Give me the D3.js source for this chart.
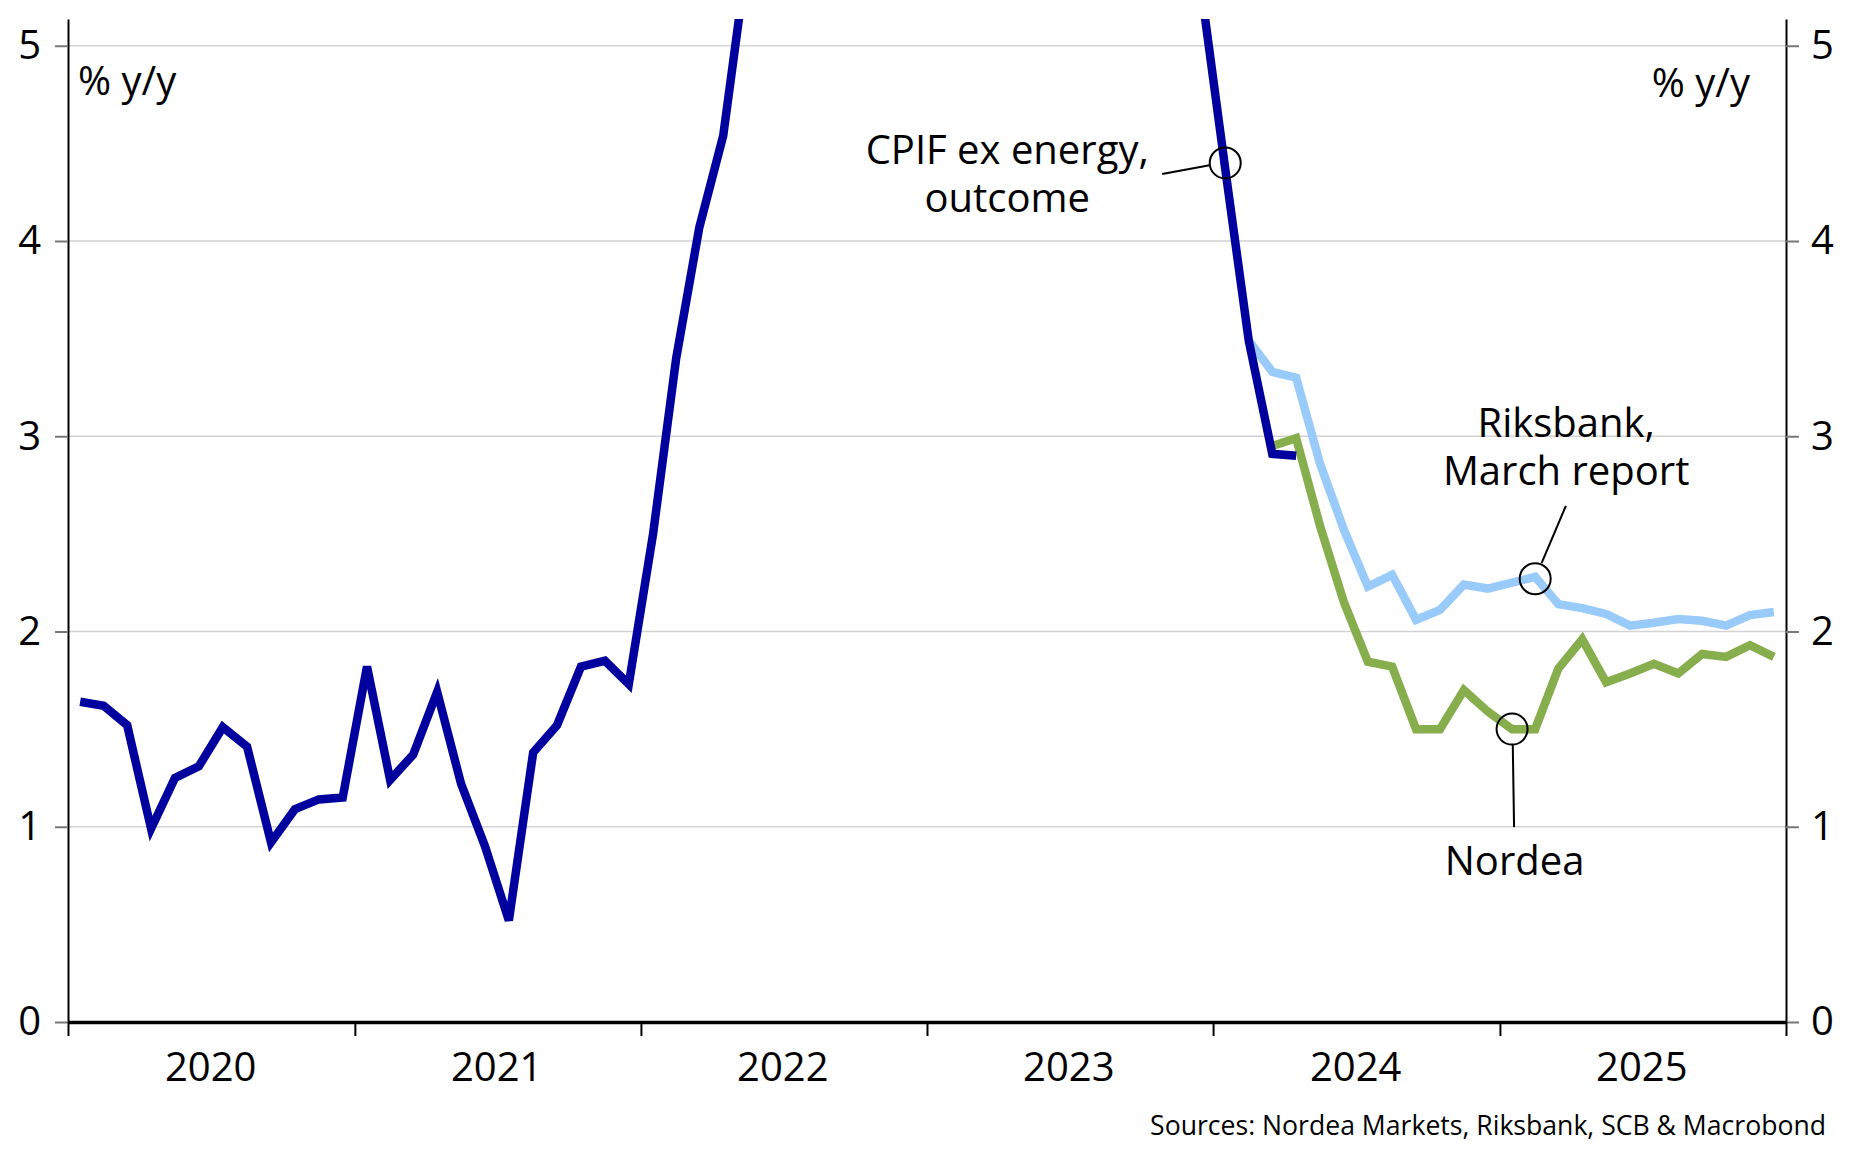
<!DOCTYPE html>
<html>
<head>
<meta charset="utf-8">
<title>CPIF ex energy, outcome and forecasts</title>
<style>
  body { margin: 0; background: #ffffff; }
  svg text { font-family: "Open Sans", sans-serif; fill: #000; }
</style>
</head>
<body>
<script src="https://cdn.jsdelivr.net/npm/d3@7"></script>
<script>
// ---- data (% y/y, monthly) ----
// CPIF ex energy, outcome, from Jan 2020 (2022-23 peak runs above the chart)
var cpifStart = [2020, 0];
var cpifOutcome = [
  1.64, 1.62, 1.52, 0.99, 1.25, 1.31, 1.51, 1.41, 0.92, 1.09, 1.14, 1.15,
  1.82, 1.24, 1.37, 1.69, 1.22, 0.90, 0.52, 1.38, 1.52, 1.82, 1.85, 1.73,
  2.50, 3.40, 4.07, 4.54, 5.45, 6.10, 6.60, 7.50, 7.90, 8.30, 8.80, 9.00,
  8.90, 9.30, 8.90, 8.40, 8.10, 7.90, 7.60, 7.20, 6.90, 6.10, 5.70, 5.30,
  4.37, 3.49, 2.91, 2.90
];

// Riksbank, March report, from Feb 2024
var riksStart = [2024, 1];
var riksMarch = [
  3.49, 3.33, 3.30, 2.86, 2.52, 2.23, 2.29, 2.06, 2.11, 2.24, 2.22,
  2.25, 2.28, 2.14, 2.12, 2.09, 2.03, 2.045, 2.064, 2.055, 2.03, 2.084, 2.10
];

// Nordea forecast, from Mar 2024
var nordeaStart = [2024, 2];
var nordeaForecast = [
  2.95, 2.99, 2.54, 2.15, 1.845, 1.82, 1.50, 1.50, 1.70, 1.59,
  1.50, 1.50, 1.81, 1.96, 1.74, 1.785, 1.835, 1.785, 1.885, 1.87, 1.93, 1.87
];

var yearLabels = [2020, 2021, 2022, 2023, 2024, 2025];
var yTicks = [0, 1, 2, 3, 4, 5];

// ---- layout ----
var W = 1854, H = 1169;
var margin = {top: 19, right: 68, bottom: 147, left: 68};
var width = W - margin.left - margin.right,
    height = H - margin.top - margin.bottom;

var svg = d3.select("body").append("svg")
    .attr("width", W)
    .attr("height", H);

var g = svg.append("g")
    .attr("transform", "translate(" + margin.left + "," + margin.top + ")");

var x = d3.scaleUtc()
    .domain([new Date(Date.UTC(2020, 0, 1)), new Date(Date.UTC(2026, 0, 1))])
    .range([0, width]);
var y = d3.scaleLinear().domain([0, 5.137]).range([height, 0]);

// points sit in the middle of their month
function midMonth(yr, m) {
  var a = Date.UTC(yr, m, 1), b = Date.UTC(yr, m + 1, 1);
  return new Date((a + b) / 2);
}
function toSeries(start, values) {
  return values.map(function (v, i) {
    return {date: midMonth(start[0], start[1] + i), value: v};
  });
}

var cpif = toSeries(cpifStart, cpifOutcome),
    riks = toSeries(riksStart, riksMarch),
    nordea = toSeries(nordeaStart, nordeaForecast);

// gridlines
g.append("g").selectAll("line")
  .data(yTicks.filter(function (d) { return d > 0; }))
  .enter().append("line")
    .attr("x1", 0).attr("x2", width)
    .attr("y1", function (d) { return y(d); })
    .attr("y2", function (d) { return y(d); })
    .attr("stroke", "#d2d2d2")
    .attr("stroke-width", 1.5);

// left axis
var yLeft = g.append("g")
    .call(d3.axisLeft(y).tickValues(yTicks).tickSize(13).tickSizeOuter(0).tickPadding(14).tickFormat(d3.format("d")));
// right axis
var yRight = g.append("g")
    .attr("transform", "translate(" + width + ",0)")
    .call(d3.axisRight(y).tickValues(yTicks).tickSize(13).tickSizeOuter(0).tickPadding(12).tickFormat(d3.format("d")));

[yLeft, yRight].forEach(function (ax) {
  ax.select(".domain").attr("stroke", "#000").attr("stroke-width", 2);
  ax.selectAll(".tick line").attr("stroke", "#777").attr("stroke-width", 2);
  ax.selectAll(".tick text").style("font-size", "40px").attr("fill", "#000");
});

// bottom axis: ticks at year starts, labels mid-year
var xAxis = g.append("g")
    .attr("transform", "translate(0," + height + ")")
    .call(d3.axisBottom(x).ticks(d3.utcYear.every(1)).tickSize(14).tickSizeOuter(0).tickFormat(""));
xAxis.select(".domain").attr("stroke", "#000").attr("stroke-width", 3.5);
xAxis.selectAll(".tick line").attr("stroke", "#000").attr("stroke-width", 2);

g.append("g").selectAll("text")
  .data(yearLabels)
  .enter().append("text")
    .attr("x", function (d) { return x(new Date(Date.UTC(d, 6, 1))); })
    .attr("y", height + 59)
    .attr("text-anchor", "middle")
    .style("font-size", "40px")
    .text(function (d) { return d; });

// lines
g.append("clipPath").attr("id", "plot")
  .append("rect").attr("width", width).attr("height", height);

var line = d3.line()
    .x(function (d) { return x(d.date); })
    .y(function (d) { return y(d.value); });

var lines = g.append("g").attr("clip-path", "url(#plot)");
lines.append("path").datum(riks)
    .attr("fill", "none").attr("stroke", "#99cbfa").attr("stroke-width", 8.5).attr("d", line);
lines.append("path").datum(nordea)
    .attr("fill", "none").attr("stroke", "#86ae4d").attr("stroke-width", 8.5).attr("d", line);
lines.append("path").datum(cpif)
    .attr("fill", "none").attr("stroke", "#00009e").attr("stroke-width", 8.5).attr("d", line);

// unit labels
g.append("text").attr("x", 10).attr("y", 76).style("font-size", "40px").text("% y/y");
g.append("text").attr("x", width - 36).attr("y", 78).attr("text-anchor", "end")
    .style("font-size", "40px").text("% y/y");

// annotations: circle on a series point, leader line, label
var annotations = [
  {date: midMonth(2024, 0), value: 4.40, lead: [[-63, 11], [-15.7, 2.4]],
   text: ["CPIF ex energy,", "outcome"], tx: -218, ty: 1},
  {date: midMonth(2025, 1), value: 2.27, lead: [[6.4, -15.7], [30.7, -73]],
   text: ["Riksbank,", "March report"], tx: 31, ty: -142},
  {date: midMonth(2025, 0), value: 1.50, lead: [[0.7, 15.7], [2, 98]],
   text: ["Nordea"], tx: 2.5, ty: 146}
];

annotations.forEach(function (a) {
  var cx = x(a.date), cy = y(a.value);
  g.append("circle").attr("cx", cx).attr("cy", cy).attr("r", 15.5)
      .attr("fill", "none").attr("stroke", "#000").attr("stroke-width", 2);
  g.append("line")
      .attr("x1", cx + a.lead[0][0]).attr("y1", cy + a.lead[0][1])
      .attr("x2", cx + a.lead[1][0]).attr("y2", cy + a.lead[1][1])
      .attr("stroke", "#000").attr("stroke-width", 2);
  var label = g.append("text")
      .attr("y", cy + a.ty)
      .attr("text-anchor", "middle")
      .style("font-size", "40px");
  a.text.forEach(function (t, i) {
    label.append("tspan")
        .attr("x", cx + a.tx)
        .attr("dy", i === 0 ? 0 : 48)
        .text(t);
  });
});

// source note
svg.append("text")
    .attr("x", 1826).attr("y", 1135)
    .attr("text-anchor", "end")
    .style("font-size", "26.6px")
    .text("Sources: Nordea Markets, Riksbank, SCB & Macrobond");
</script>
</body>
</html>
